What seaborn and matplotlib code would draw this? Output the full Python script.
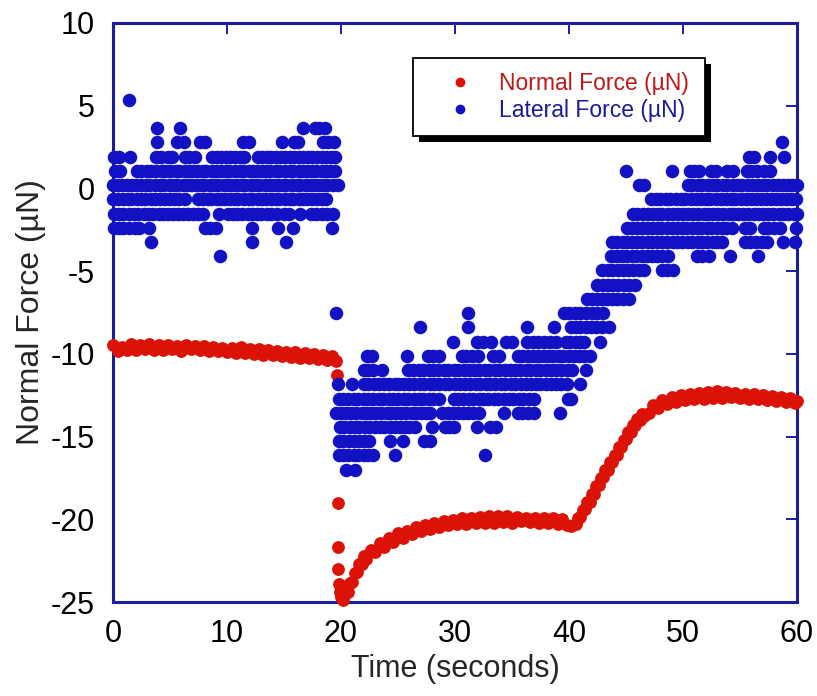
import numpy as np
import pandas as pd
import matplotlib
matplotlib.use("Agg")
import matplotlib.pyplot as plt
import matplotlib.patheffects as pe
from matplotlib.lines import Line2D
import seaborn as sns

# ---------------- Normal force (µN) vs time (s) ----------------
normal_t_hold = [0.0, 0.4, 0.8, 1.2, 1.6, 2.0, 2.4, 2.8, 3.2, 3.6,
                 4.0, 4.4, 4.8, 5.2, 5.6, 6.0, 6.4, 6.8, 7.2, 7.6,
                 8.0, 8.4, 8.8, 9.2, 9.6, 10.0, 10.4, 10.8, 11.2, 11.6,
                 12.0, 12.4, 12.8, 13.2, 13.6, 14.0, 14.4, 14.8, 15.2, 15.6,
                 16.0, 16.4, 16.8, 17.2, 17.6, 18.0, 18.4, 18.8, 19.2, 19.6]
normal_v_hold = [-9.45, -9.80, -9.58, -9.74, -9.42, -9.76, -9.48, -9.70, -9.40, -9.75,
                 -9.47, -9.78, -9.44, -9.72, -9.50, -9.80, -9.46, -9.68, -9.52, -9.78,
                 -9.55, -9.82, -9.58, -9.85, -9.62, -9.90, -9.66, -9.92, -9.60, -9.95,
                 -9.68, -9.98, -9.72, -10.05, -9.76, -10.08, -9.80, -10.12, -9.86, -10.18,
                 -9.90, -10.22, -9.96, -10.28, -10.02, -10.34, -10.08, -10.40, -10.12, -10.42]

normal_t_drop = [19.65, 19.7, 19.72, 19.75, 19.8, 19.9, 20.0]
normal_v_drop = [-11.3, -19.0, -21.7, -23.0, -23.9, -24.4, -24.7]

normal_t_relax = [20.2, 20.4, 20.6, 20.8, 21.0, 21.2, 21.4, 21.6, 21.8, 22.0,
                  22.2, 22.6, 23.0, 23.4, 23.8, 24.2, 24.6, 25.0, 25.4, 25.8,
                  26.2, 26.6, 27.0, 27.4, 27.8, 28.2, 28.6, 29.0, 29.4, 29.8,
                  30.2, 30.6, 31.0, 31.4, 31.8, 32.2, 32.6, 33.0, 33.4, 33.8,
                  34.2, 34.6, 35.0, 35.4, 35.8, 36.2, 36.6, 37.0, 37.4, 37.8,
                  38.2, 38.6, 39.0, 39.4, 39.8, 40.2]
normal_v_relax = [-24.9, -24.45, -24.4, -23.85, -23.8, -23.25, -23.2, -22.7, -22.7, -22.2,
                  -22.4, -21.85, -21.95, -21.45, -21.65, -21.15, -21.35, -20.85, -21.1, -20.7,
                  -20.9, -20.45, -20.7, -20.35, -20.6, -20.2, -20.45, -20.1, -20.35, -20.05,
                  -20.3, -19.95, -20.3, -19.9, -20.25, -19.85, -20.2, -19.8, -20.2, -19.8,
                  -20.15, -19.8, -20.2, -19.85, -20.1, -19.9, -20.15, -19.9, -20.2, -19.9,
                  -20.25, -19.95, -20.3, -20.0, -20.35, -20.4]

normal_t_rise = [40.6, 40.8, 41.0, 41.2, 41.4, 41.6, 41.8, 42.0, 42.2, 42.4,
                 42.6, 42.8, 43.0, 43.2, 43.4, 43.6, 43.8, 44.0, 44.2, 44.4,
                 44.6, 44.8, 45.0, 45.2, 45.4, 45.6, 45.8, 46.0, 46.2, 46.4,
                 46.6]
normal_v_rise = [-20.3, -19.95, -19.85, -19.45, -19.4, -18.95, -18.95, -18.5, -18.45, -18.0,
                 -17.95, -17.5, -17.45, -17.0, -17.0, -16.55, -16.55, -16.1, -16.1, -15.65,
                 -15.6, -15.2, -15.15, -14.7, -14.7, -14.3, -14.3, -13.95, -14.0, -13.65,
                 -13.75]

normal_t_top = [47.0, 47.4, 47.8, 48.2, 48.6, 49.0, 49.4, 49.8, 50.2, 50.6,
                51.0, 51.4, 51.8, 52.2, 52.6, 53.0, 53.4, 53.8, 54.2, 54.6,
                55.0, 55.4, 55.8, 56.2, 56.6, 57.0, 57.4, 57.8, 58.2, 58.6,
                59.0, 59.4, 59.8, 60.0]
normal_v_top = [-13.55, -13.1, -13.3, -12.8, -13.05, -12.6, -12.9, -12.5, -12.8, -12.4,
                -12.75, -12.35, -12.7, -12.3, -12.65, -12.25, -12.65, -12.3, -12.6, -12.35,
                -12.65, -12.4, -12.7, -12.45, -12.75, -12.5, -12.8, -12.55, -12.85, -12.6,
                -12.9, -12.65, -12.95, -12.85]

# ---------------- Lateral force (µN): readings sit on discrete levels ----------------
lateral_levels_early = [5.36, 3.64, 2.78, 1.92, 1.06, 0.2, -0.66, -1.52, -2.38, -3.24, -4.1, -7.54]
lateral_times_early = [
    [1.4],
    [3.9, 5.9, 16.7, 17.7, 18.1, 18.6],
    [3.9, 5.6, 6.2, 7.6, 8.1, 11.4, 11.9, 14.8, 15.9, 16.2, 18.4, 18.9, 19.4],
    [0.1, 0.5, 1.5, 3.8, 4.2, 4.8, 5.2, 6.3, 6.7, 7.2, 8.7, 9.1, 9.5, 9.9, 10.3, 10.7,
     11.1, 11.5, 12.7, 13.1, 13.5, 13.9, 14.3, 14.7, 15.1, 15.5, 15.9, 16.3, 16.7, 17.1,
     17.5, 17.9, 18.3, 18.7, 19.1, 19.5],
    [0.2, 0.6, 2.1, 2.5, 3.0, 3.3, 3.8, 4.3, 4.6, 5.0, 5.5, 5.8, 6.3, 6.7, 7.0, 7.5, 7.9,
     8.2, 8.7, 9.0, 9.5, 9.9, 10.2, 10.7, 11.1, 11.4, 11.9, 12.3, 12.6, 13.1, 13.4, 13.8,
     14.3, 14.6, 15.1, 15.5, 15.8, 16.3, 16.7, 17.0, 17.5, 17.8, 18.3, 18.7, 19.0, 19.5],
    [0.0, 0.4, 0.8, 1.2, 1.7, 2.0, 2.5, 2.9, 3.2, 3.7, 4.1, 4.4, 4.9, 5.3, 5.6, 6.1, 6.5,
     6.8, 7.3, 7.7, 8.0, 8.5, 8.9, 9.2, 9.7, 10.1, 10.4, 10.9, 11.3, 11.6, 12.1, 12.5,
     12.8, 13.3, 13.7, 14.0, 14.5, 14.9, 15.2, 15.7, 16.1, 16.4, 16.9, 17.3, 17.6, 18.1,
     18.5, 18.8, 19.3, 19.7],
    [0.0, 0.4, 0.9, 1.3, 1.6, 2.1, 2.5, 2.8, 3.3, 3.7, 4.1, 4.6, 5.0, 5.4, 5.8, 6.3, 7.5,
     7.9, 8.3, 8.6, 9.1, 9.5, 9.8, 10.3, 10.7, 11.0, 11.5, 11.9, 12.2, 12.7, 13.1, 13.4,
     13.9, 14.3, 14.6, 15.1, 15.5, 15.8, 16.3, 16.7, 17.0, 17.5, 17.9, 18.3, 18.7],
    [0.1, 0.5, 0.9, 1.4, 1.8, 2.2, 2.7, 3.1, 3.5, 4.0, 4.4, 4.8, 5.3, 5.7, 6.1, 6.6, 7.0,
     7.5, 7.9, 9.3, 10.1, 10.5, 10.9, 11.3, 11.8, 12.2, 12.6, 13.0, 13.5, 13.9, 14.4,
     15.0, 15.4, 16.4, 17.4, 17.8, 18.3, 18.8, 19.3],
    [0.1, 0.5, 0.9, 1.4, 1.9, 2.3, 3.2, 8.1, 8.5, 9.0, 12.2, 14.5, 15.8, 19.2],
    [3.3, 12.2, 15.2],
    [9.4],
    [19.6],
]

lateral_levels_middle = [-7.54, -8.4, -9.26, -10.12, -10.98, -11.84, -12.7, -13.56,
                         -14.42, -15.28, -16.14, -17.0]
lateral_times_middle = [
    [31.1, 39.6, 40.0, 40.5, 41.0, 41.5, 42.0, 42.5, 43.0],
    [26.9, 31.1, 36.3, 38.7, 40.2, 40.6, 41.0, 41.5, 41.9, 42.4, 42.9, 43.5],
    [29.8, 31.9, 32.5, 33.2, 34.5, 35.0, 36.3, 36.8, 37.3, 37.8, 38.3, 38.9, 39.7, 40.1,
     40.6, 41.0, 41.3, 42.7],
    [22.3, 22.7, 25.8, 27.6, 28.1, 28.6, 30.6, 31.0, 31.5, 32.0, 33.3, 33.9, 35.5, 35.9,
     36.4, 36.8, 37.3, 37.7, 38.2, 38.6, 39.1, 39.5, 40.0, 40.4, 40.9, 41.3, 41.8],
    [22.0, 22.4, 22.8, 23.6, 25.9, 26.3, 26.8, 27.2, 27.7, 28.1, 28.5, 29.0, 29.4, 29.9,
     30.3, 30.8, 31.2, 31.7, 32.1, 32.6, 33.0, 33.5, 33.9, 34.4, 34.8, 35.3, 35.7, 36.2,
     36.6, 37.1, 37.5, 38.0, 38.4, 38.9, 39.3, 39.8, 40.3, 41.5],
    [19.7, 21.0, 22.0, 22.4, 22.9, 23.3, 23.8, 24.2, 24.7, 25.1, 25.5, 26.0, 26.4, 26.9,
     27.3, 27.8, 28.2, 28.6, 29.1, 29.5, 30.0, 30.4, 30.9, 31.3, 31.8, 32.2, 32.7, 33.1,
     33.5, 34.0, 34.4, 34.9, 35.3, 35.8, 36.2, 36.7, 37.1, 37.5, 38.0, 38.4, 38.9, 39.3,
     39.8, 41.0],
    [19.8, 20.2, 20.6, 21.1, 21.5, 22.0, 22.4, 22.8, 23.3, 23.7, 24.2, 24.6, 25.0, 25.5,
     25.9, 26.4, 26.8, 27.2, 27.7, 28.1, 28.6, 29.9, 30.3, 30.7, 31.2, 31.6, 32.1, 32.5,
     32.9, 33.4, 33.8, 34.3, 34.7, 35.1, 35.6, 36.0, 36.5, 36.9, 39.9, 40.2],
    [19.6, 20.0, 20.4, 20.9, 21.3, 21.8, 22.2, 22.6, 23.1, 23.5, 24.0, 24.4, 24.8, 25.3,
     25.7, 26.2, 26.6, 27.0, 27.5, 27.8, 28.9, 29.4, 29.8, 30.3, 30.7, 31.1, 31.6, 32.1,
     34.3, 35.5, 35.9, 36.4, 36.9, 39.2],
    [19.9, 20.3, 20.8, 21.2, 21.6, 22.1, 22.5, 23.0, 23.4, 23.8, 24.3, 24.7, 25.2, 25.6,
     26.0, 26.5, 28.0, 29.1, 29.5, 29.9, 31.9, 33.1, 33.6],
    [19.8, 20.2, 20.7, 21.1, 21.6, 22.0, 22.5, 24.3, 25.4, 27.3, 27.8],
    [19.8, 20.2, 20.6, 21.1, 21.5, 22.0, 22.4, 22.8, 24.7, 32.6],
    [20.4, 21.2],
]

lateral_levels_late = [2.78, 1.92, 1.06, 0.2, -0.66, -1.52, -2.38, -3.24, -4.1, -4.96,
                       -5.82, -6.68]
lateral_times_late = [
    [58.7],
    [55.8, 56.2, 57.6, 58.9],
    [45.0, 49.0, 50.6, 51.0, 51.4, 52.5, 52.9, 53.9, 54.4, 55.6, 56.0, 56.5, 57.1, 57.6],
    [46.1, 46.6, 50.4, 50.8, 51.3, 51.7, 52.2, 52.6, 53.0, 53.5, 53.9, 54.4, 54.8, 55.2,
     55.7, 56.1, 56.6, 57.0, 57.4, 57.9, 58.3, 58.8, 59.2, 59.6, 60.0],
    [47.2, 47.6, 48.0, 48.5, 48.9, 49.4, 49.8, 50.2, 50.7, 51.1, 51.6, 52.0, 52.4, 52.9,
     53.3, 53.8, 54.2, 54.6, 55.1, 55.5, 56.0, 56.4, 56.8, 57.3, 57.7, 58.2, 58.6, 59.0,
     59.5, 59.9],
    [45.6, 46.0, 46.5, 46.9, 47.4, 47.8, 48.2, 48.7, 49.1, 49.6, 50.0, 50.4, 50.9, 51.3,
     51.8, 52.2, 52.6, 53.1, 53.5, 54.0, 54.4, 54.8, 55.3, 55.7, 56.2, 56.6, 57.0, 57.5,
     57.9, 58.4, 58.8, 59.2, 59.7, 60.0],
    [45.1, 45.5, 46.0, 46.4, 46.8, 47.3, 47.7, 48.1, 48.6, 49.0, 49.5, 49.9, 50.3, 50.8,
     51.2, 51.6, 52.1, 52.5, 53.0, 53.4, 53.8, 54.3, 55.4, 55.9, 57.1, 57.5, 58.0, 58.5,
     59.9],
    [43.8, 44.2, 44.7, 45.1, 45.5, 46.0, 46.4, 46.9, 47.3, 47.7, 48.2, 48.6, 49.1, 49.5,
     49.9, 50.4, 50.8, 51.3, 51.7, 52.1, 52.6, 53.0, 53.4, 55.4, 55.9, 56.4, 56.9, 57.4,
     58.8, 59.8],
    [43.7, 44.1, 44.6, 45.0, 45.5, 45.9, 46.4, 46.8, 47.3, 47.7, 48.2, 48.7, 51.2, 51.7,
     52.3, 54.1, 56.6],
    [42.9, 43.4, 43.8, 44.3, 44.7, 45.2, 45.6, 46.1, 46.6, 48.2, 48.6, 49.1],
    [42.5, 43.0, 43.4, 43.9, 44.3, 44.8, 45.3, 45.8],
    [41.6, 42.0, 42.5, 42.9, 43.3, 43.8, 44.2, 44.7, 45.3],
]

x_ticks = [0, 10, 20, 30, 40, 50, 60]
y_ticks = [-25, -20, -15, -10, -5, 0, 5, 10]

# ---------------- tables ----------------
normal = pd.DataFrame({
    "time": normal_t_hold + normal_t_drop + normal_t_relax + normal_t_rise + normal_t_top,
    "force": normal_v_hold + normal_v_drop + normal_v_relax + normal_v_rise + normal_v_top,
})

lat_rows = []
for levels, times in ((lateral_levels_early, lateral_times_early),
                      (lateral_levels_middle, lateral_times_middle),
                      (lateral_levels_late, lateral_times_late)):
    for level, ts in zip(levels, times):
        for t in ts:
            lat_rows.append((t, level))
lateral = pd.DataFrame(lat_rows, columns=["time", "force"])

# ---------------- drawing ----------------
sns.set_theme(style="white")
plt.rcParams["font.family"] = ["Liberation Sans", "DejaVu Sans"]

RED = "#dc1206"
BLUE = "#1212c4"
FRAME = "#1c1c9c"

fig = plt.figure(figsize=(8.17, 6.96), dpi=100)
fig.patch.set_facecolor("white")
ax = fig.add_axes([0.1383, 0.135, 0.8372, 0.832])

sns.scatterplot(data=normal, x="time", y="force", color=RED, s=85, linewidth=0,
                legend=False, ax=ax, clip_on=False, zorder=3)
sns.scatterplot(data=lateral, x="time", y="force", color=BLUE, s=95, linewidth=0,
                legend=False, ax=ax, clip_on=False, zorder=3)

ax.set_xlim(0, 60)
ax.set_ylim(-25, 10)
ax.set_xticks(x_ticks)
ax.set_yticks(y_ticks)
ax.set_xticklabels([str(v) for v in x_ticks])
ax.set_yticklabels([str(v) for v in y_ticks])

for side in ax.spines.values():
    side.set_color(FRAME)
    side.set_linewidth(2.2)
    side.set_visible(True)

ax.tick_params(axis="both", direction="in", length=8, width=1.4, color=FRAME,
               top=True, right=True, labelcolor="black", labelsize=22)
ax.tick_params(axis="x", pad=12)
ax.tick_params(axis="y", pad=13)

ax.set_xlabel("Time (seconds)", fontsize=22, labelpad=4)
ax.set_ylabel("Normal Force (µN)", fontsize=23, labelpad=3)

handles = [
    Line2D([], [], marker="o", linestyle="none", color=RED, markersize=6),
    Line2D([], [], marker="o", linestyle="none", color=BLUE, markersize=6),
]
leg = ax.legend(handles, ["Normal Force (µN)", "Lateral Force (µN)"],
                loc="upper left", bbox_to_anchor=(0.4386, 0.8066, 0.427, 0.133),
                mode="expand", borderaxespad=0, fontsize=16.5, frameon=True,
                fancybox=False, handlelength=2.9, handletextpad=0.25,
                labelspacing=0.2, borderpad=0.6)
frame = leg.get_frame()
frame.set_edgecolor("black")
frame.set_linewidth(1.3)
frame.set_facecolor("white")
frame.set_alpha(1)
frame.set_path_effects([pe.SimplePatchShadow(offset=(4.5, -4.5), shadow_rgbFace="black",
                                             alpha=1.0), pe.Normal()])
leg.get_texts()[0].set_color("#c01818")
leg.get_texts()[1].set_color("#1a1a9a")
leg.set_zorder(5)

fig.savefig("out.png", dpi=100, facecolor="white")
